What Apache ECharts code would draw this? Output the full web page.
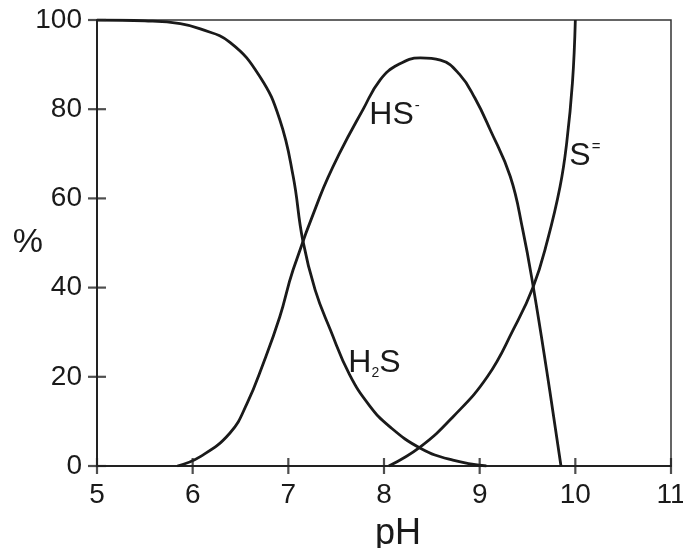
<!DOCTYPE html>
<html>
<head>
<meta charset="utf-8">
<script src="https://cdn.jsdelivr.net/npm/echarts@6/dist/echarts.min.js"></script>
<style>
  html, body { margin: 0; padding: 0; background: #fff; }
  #main { width: 683px; height: 548px; }
</style>
</head>
<body>
<div id="main"></div>
<script>
// 数据：[pH, %]
const h2s = [
  [5.0, 100], [5.5, 99.8], [5.87, 99.2], [6.08, 98.0], [6.39, 95.0],
  [6.70, 87.4], [6.91, 77.7], [7.05, 65.0], [7.15, 50.7], [7.28, 39.5],
  [7.44, 30.5], [7.64, 20.5], [7.85, 13.5], [8.05, 9.0], [8.38, 4.0], [8.72, 1.3], [9.07, 0]
]
const hs = [
  [5.84, 0], [6.08, 2.1], [6.39, 7.4], [6.57, 14.1], [6.74, 23.1], [6.91, 33.4],
  [7.05, 44.0], [7.33, 60.4], [7.54, 70.3], [7.78, 79.9], [7.96, 86.6],
  [8.15, 90.0], [8.38, 91.5], [8.59, 91.0], [8.79, 87.8], [8.95, 82.5], [9.11, 75.4],
  [9.32, 64.9], [9.45, 53.0], [9.56, 40.2], [9.70, 21.5], [9.85, 0]
]
const s2 = [
  [8.05, 0], [8.38, 4.3], [8.72, 11.0], [9.08, 20.0], [9.35, 30.5], [9.56, 40.2],
  [9.71, 50.7], [9.84, 62.6], [9.91, 72.5], [9.97, 86.0], [10.0, 100]
]
// 刻度
const xTicks = [5, 6, 7, 8, 9, 10, 11]
const yTicks = [0, 20, 40, 60, 80, 100]
// 标签位置
const labelHS = [8.11, 78.5]
const labelH2S = [7.9, 23]
const labelS = [10.1, 69.3]

const font = 'Arial, "Liberation Sans", Helvetica, sans-serif'
const ink = '#1a1a1a'

const myChart = echarts.init(document.getElementById('main'))

const line = (data, mark) => ({
  type: 'line',
  data: data,
  smooth: 0.45,
  showSymbol: false,
  lineStyle: { color: ink, width: 2.8 },
  markPoint: {
    symbolSize: 1,
    itemStyle: { color: 'transparent' },
    label: {
      show: true,
      position: 'inside',
      fontFamily: font,
      color: ink,
      formatter: mark.text,
      rich: {
        b: { fontSize: 32, fontFamily: font, color: ink, lineHeight: 34 },
        sup: { fontSize: 15, fontFamily: font, color: ink, verticalAlign: 'top', lineHeight: 34, padding: [0, 0, 14, 1] },
        sub: { fontSize: 14, fontFamily: font, color: ink, verticalAlign: 'bottom', lineHeight: 34, padding: [12, 0, 0, 0] }
      }
    },
    data: [{ coord: mark.coord }]
  }
})

// 穿过坐标轴的刻度线
const tickSeries = (data, size) => ({
  type: 'scatter',
  silent: true,
  clip: false,
  z: 5,
  symbol: 'rect',
  symbolSize: size,
  itemStyle: { color: '#222' },
  data: data
})

const axisFont = { fontFamily: font, fontSize: 28, color: ink }
const axisLineStyle = { color: '#222', width: 2 }

myChart.setOption({
  backgroundColor: '#fff',
  animation: false,
  grid: {
    left: 97, top: 20, right: 12, bottom: 82,
    outerBoundsMode: 'none',
    show: true, borderColor: '#333', borderWidth: 1.5
  },
  xAxis: {
    type: 'value', min: 5, max: 11, interval: 1,
    name: 'pH', nameLocation: 'middle', nameGap: 50, nameMoveOverlap: false,
    nameTextStyle: { fontFamily: font, fontSize: 36, color: ink, padding: [0, 0, 0, 28] },
    axisLine: { lineStyle: axisLineStyle },
    axisTick: { show: false },
    axisLabel: Object.assign({ margin: 15 }, axisFont),
    splitLine: { show: false }
  },
  yAxis: {
    type: 'value', min: 0, max: 100, interval: 20,
    name: '%', nameLocation: 'middle', nameRotate: 0, nameGap: 54, nameMoveOverlap: false,
    nameTextStyle: { fontFamily: font, fontSize: 34, color: ink },
    axisLine: { lineStyle: axisLineStyle },
    axisTick: { show: false },
    axisLabel: Object.assign({ margin: 15 }, axisFont),
    splitLine: { show: false }
  },
  series: [
    line(h2s, { text: '{b|H}{sub|2}{b|S}', coord: labelH2S }),
    line(hs, { text: '{b|HS}{sup|-}', coord: labelHS }),
    line(s2, { text: '{b|S}{sup|=}', coord: labelS }),
    tickSeries(xTicks.map(v => [v, 0]), [2.2, 16]),
    tickSeries(yTicks.map(v => [5, v]), [18, 2.2])
  ]
})
</script>
</body>
</html>
